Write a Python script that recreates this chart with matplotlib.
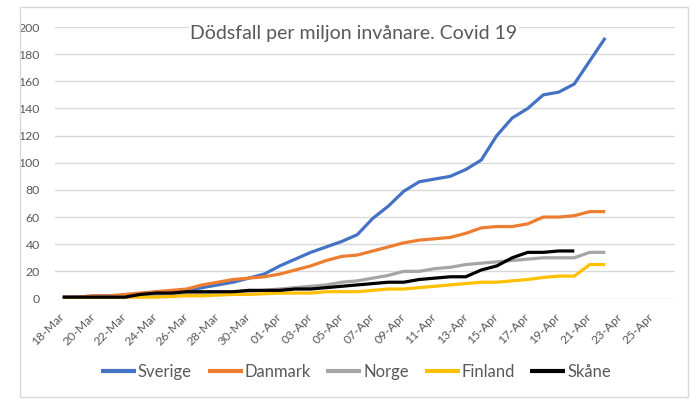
import numpy as np
import matplotlib
matplotlib.use("Agg")
import matplotlib.pyplot as plt
from matplotlib.patches import Rectangle

plt.rcParams['font.family'] = ['Lato', 'DejaVu Sans']

dates = ["18-Mar", "19-Mar", "20-Mar", "21-Mar", "22-Mar", "23-Mar", "24-Mar", "25-Mar",
         "26-Mar", "27-Mar", "28-Mar", "29-Mar", "30-Mar", "31-Mar", "01-Apr", "02-Apr",
         "03-Apr", "04-Apr", "05-Apr", "06-Apr", "07-Apr", "08-Apr", "09-Apr", "10-Apr",
         "11-Apr", "12-Apr", "13-Apr", "14-Apr", "15-Apr", "16-Apr", "17-Apr", "18-Apr",
         "19-Apr", "20-Apr", "21-Apr", "22-Apr", "23-Apr", "24-Apr", "25-Apr", "26-Apr"]

sverige = [1, 1, 2, 2, 2, 3, 4, 5, 6, 8, 10, 12, 15, 18, 24, 29, 34, 38, 42, 47,
           59, 68, 79, 86, 88, 90, 95, 102, 120, 133, 140, 150, 152, 158, 175, 192]
danmark = [1, 1, 2, 2, 3, 4, 5, 6, 7, 10, 12, 14, 15, 16, 18, 21, 24, 28, 31, 32,
           35, 38, 41, 43, 44, 45, 48, 52, 53, 53, 55, 60, 60, 61, 64, 64]
norge = [0.5, 0.5, 1, 1, 1, 1.5, 2, 2, 3, 3, 4, 4, 5, 6, 7, 8, 9, 10, 12, 13,
         15, 17, 20, 20, 22, 23, 25, 26, 27, 28, 29, 30, 30, 30, 34, 34]
finland = [0, 0, 0.5, 0.5, 1, 1, 1, 1.5, 2, 2, 2.5, 3, 3, 3.5, 4, 4, 4, 5, 5, 5,
           6, 7, 7, 8, 9, 10, 11, 12, 12, 13, 14, 15.5, 16.5, 16.5, 25, 25]
skane = [1, 1, 1, 1, 1, 3, 4, 4, 5, 5, 5, 5, 6, 6, 6, 7, 7, 8, 9, 10,
         11, 12, 12, 14, 15, 16, 16, 21, 24, 30, 34, 34, 35, 35]

series = [("Sverige", sverige, "#4472C4"),
          ("Danmark", danmark, "#ED7D31"),
          ("Norge", norge, "#A5A5A5"),
          ("Finland", finland, "#FFC000"),
          ("Skåne", skane, "#000000")]

W, H = 700, 407
fig = plt.figure(figsize=(W / 100, H / 100), dpi=100)

# outer chart border
fig.patches.append(Rectangle((20 / W, 1 - 397 / H), 668 / W, 390 / H,
                             transform=fig.transFigure, fill=False,
                             edgecolor="#D9D9D9", linewidth=1.0))

ax = fig.add_axes([55 / W, 1 - 298.5 / H, 620 / W, 271.5 / H])
for name, vals, col in series:
    ax.plot(np.arange(len(vals)), vals, color=col, linewidth=2.3,
            label=name, solid_capstyle="butt", solid_joinstyle="round")

ax.set_xlim(-0.5, len(dates) - 0.5)
ax.set_ylim(0, 200)
ax.set_yticks(np.arange(0, 201, 20))
ax.yaxis.grid(True, color="#D9D9D9", linewidth=1.0)
ax.set_axisbelow(True)
for s in ax.spines.values():
    s.set_visible(False)

ax.set_xticks(np.arange(0, len(dates), 2))
ax.set_xticklabels(dates[::2], rotation=45, ha="right", va="center",
                   rotation_mode="anchor", fontsize=8.8, color="#595959")
ax.tick_params(axis="both", length=0)
ax.tick_params(axis="x", pad=12)
ax.tick_params(axis="y", pad=11, labelsize=8.8, labelcolor="#595959")

fig.text(354 / W, 1 - 33 / H, "Dödsfall per miljon invånare. Covid 19",
         ha="center", va="center", fontsize=14, color="#595959",
         bbox=dict(facecolor="white", edgecolor="none", pad=1))

leg = fig.legend(loc="center", bbox_to_anchor=(356 / W, 1 - 372 / H), ncol=5,
                 frameon=False, fontsize=12, handlelength=2.1, handletextpad=0.1,
                 columnspacing=0.95, labelcolor="#595959")
for h in leg.legend_handles:
    h.set_linewidth(3)

fig.savefig("out.png", dpi=100, facecolor="white")
